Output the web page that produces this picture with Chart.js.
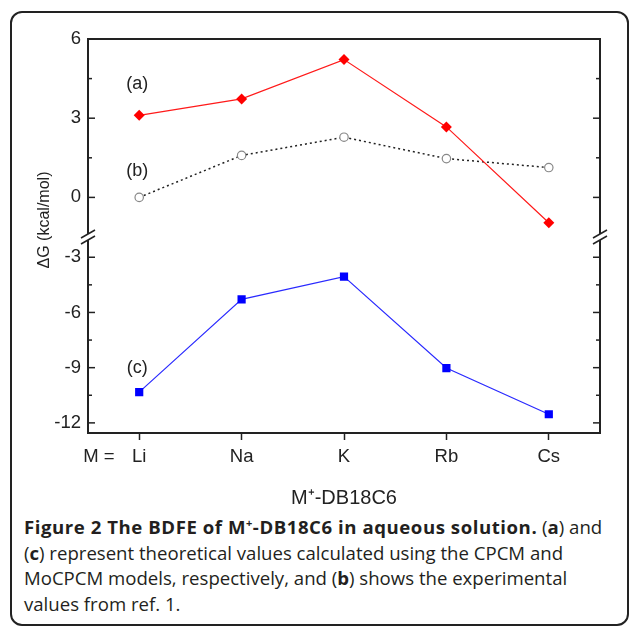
<!DOCTYPE html>
<html>
<head>
<meta charset="utf-8">
<script src="https://cdn.jsdelivr.net/npm/chart.js@4"></script>
<style>
  body { margin: 0; background: #fff; width: 630px; height: 626px; overflow: hidden; position: relative; }
  #frame { position: absolute; left: 10px; top: 11px; width: 615px; height: 611px; border: 2px solid #222; border-radius: 12px; }
  #wrap { position: absolute; left: 0; top: 0; width: 630px; height: 510px; }
  #caption { position: absolute; left: 24px; top: 514px; width: 604px; font-family: "Open Sans"; font-size: 18.6px; line-height: 25.5px; color: #231f20; white-space: nowrap; }
  #caption .hd { font-weight: bold; letter-spacing: 0.55px; }
  #caption sup { font-size: 11px; vertical-align: 7px; line-height: 0; }
</style>
</head>
<body>
<div id="frame"></div>
<div id="wrap"><canvas id="myChart" width="630" height="510"></canvas></div>
<div id="caption">
  <span class="hd">Figure 2 The BDFE of M<sup>+</sup>-DB18C6 in aqueous solution.</span> (<b>a</b>) and<br>
  (<b>c</b>) represent theoretical values calculated using the CPCM and<br>
  MoCPCM models, respectively, and (<b>b</b>) shows the experimental<br>
  values from ref. 1.
</div>
<script>
// values (kcal/mol)
const metals = ['Li', 'Na', 'K', 'Rb', 'Cs'];
const cpcm = [3.11, 3.73, 5.22, 2.67, -0.96];         // (a)
const experiment = [0.0, 1.59, 2.28, 1.47, 1.13];     // (b)
const mocpcm = [-10.33, -5.29, -4.05, -9.02, -11.53]; // (c)
const upperTicks = [6, 3, 0];
const lowerTicks = [-3, -6, -9, -12];

const ink = '#222';
Chart.defaults.font.family = "'Liberation Sans', Arial, sans-serif";
Chart.defaults.color = ink;

// series tags sit above the Li point
const tags = [
    { text: '(a)', axis: 'y', value: 4.3 },
    { text: '(b)', axis: 'y', value: 1.0 },
    { text: '(c)', axis: 'y2', value: -9.0 }
];

const drawTick = (ctx, x1, y, x2) => {
    ctx.beginPath();
    ctx.moveTo(x1, y);
    ctx.lineTo(x2, y);
    ctx.stroke();
};

const framePlugin = {
    id: 'frame',
    afterDraw: chart => {
        const ctx = chart.ctx;
        const area = chart.chartArea;
        const up = chart.scales.y;
        const low = chart.scales.y2;
        const x = chart.scales.x;
        ctx.save();
        ctx.strokeStyle = ink;
        ctx.lineWidth = 2;
        // top and right borders
        ctx.beginPath();
        ctx.moveTo(area.left, area.top);
        ctx.lineTo(area.right, area.top);
        ctx.lineTo(area.right, area.bottom);
        ctx.stroke();

        // inward ticks on left and right
        ctx.lineWidth = 1.5;
        [[up, upperTicks], [low, lowerTicks]].forEach(([s, list]) => {
            list.forEach(v => {
                const py = s.getPixelForValue(v);
                drawTick(ctx, area.left, py, area.left + 7);
                drawTick(ctx, area.right, py, area.right - 7);
                const m = v - 1.5;
                if (m > s.min + 0.2) {
                    const my = s.getPixelForValue(m);
                    drawTick(ctx, area.left, my, area.left + 4);
                    drawTick(ctx, area.right, my, area.right - 4);
                }
            });
        });

        // axis breaks
        const by = (up.bottom + low.top) / 2;
        [area.left, area.right].forEach(bx => {
            ctx.fillStyle = '#fff';
            ctx.fillRect(bx - 3, by - 3, 6, 6);
            ctx.strokeStyle = ink;
            ctx.lineWidth = 1.5;
            [-3, 3].forEach(d => {
                ctx.beginPath();
                ctx.moveTo(bx - 7, by + d + 4);
                ctx.lineTo(bx + 7, by + d - 4);
                ctx.stroke();
            });
        });

        // series tags
        ctx.fillStyle = ink;
        ctx.font = "18px 'Liberation Sans', Arial";
        ctx.textAlign = 'center';
        ctx.textBaseline = 'middle';
        tags.forEach(t => {
            ctx.fillText(t.text, x.getPixelForValue(0) - 2, chart.scales[t.axis].getPixelForValue(t.value));
        });

        // "M =" in front of the category labels
        ctx.font = "18.5px 'Liberation Sans', Arial";
        ctx.fillText('M =', area.left + 11, area.bottom + 24);

        // y title
        ctx.font = "16px 'Liberation Sans', Arial";
        ctx.translate(45, 220);
        ctx.rotate(-Math.PI / 2);
        ctx.fillText('\u0394G (kcal/mol)', 0, 0);
        ctx.restore();
    }
};

const tickFont = { size: 18.5 };

const ctx = document.getElementById('myChart').getContext('2d');
const myChart = new Chart(ctx, {
    type: 'line',
    data: {
        labels: metals,
        datasets: [{
            label: '(a) CPCM',
            data: cpcm,
            yAxisID: 'y',
            borderColor: '#ff1a1a',
            backgroundColor: '#ff0000',
            borderWidth: 1.2,
            pointStyle: 'rectRot',
            pointRadius: 5.5,
            pointBorderWidth: 0
        }, {
            label: '(b) experiment',
            data: experiment,
            yAxisID: 'y',
            borderColor: ink,
            borderWidth: 1.5,
            borderDash: [2, 3],
            pointStyle: 'circle',
            pointRadius: 4.2,
            pointBorderWidth: 1.2,
            pointBorderColor: '#888',
            pointBackgroundColor: '#fff'
        }, {
            label: '(c) MoCPCM',
            data: mocpcm,
            yAxisID: 'y2',
            borderColor: '#2a2aff',
            backgroundColor: '#0000ff',
            borderWidth: 1.2,
            pointStyle: 'rect',
            pointRadius: 5.8,
            pointBorderWidth: 0
        }]
    },
    options: {
        responsive: false,
        animation: false,
        layout: { padding: { left: 28, right: 30, top: 39, bottom: 0 } },
        plugins: { legend: { display: false }, tooltip: { enabled: false } },
        scales: {
            x: {
                offset: true,
                grid: { display: true, drawOnChartArea: false, tickLength: 7, color: ink, tickWidth: 1.5 },
                border: { color: ink, width: 2 },
                ticks: { font: tickFont, color: ink, padding: 6 },
                title: { display: true, text: 'M\u207A-DB18C6', font: { size: 20 }, color: ink, padding: { top: 2, bottom: 0 } },
                afterFit: s => { s.height = 77; }
            },
            // lower part listed first so it ends up under the upper part
            y2: {
                stack: 'v',
                stackWeight: 196,
                min: -12.55,
                max: -1.9,
                grid: { display: false, drawTicks: false },
                border: { color: ink, width: 2 },
                ticks: { font: tickFont, color: ink, padding: 7 },
                afterBuildTicks: s => { s.ticks = lowerTicks.map(v => ({ value: v })); },
                afterFit: s => { s.width = 60; }
            },
            y: {
                stack: 'v',
                stackWeight: 198,
                min: -1.5,
                max: 6,
                grid: { display: false, drawTicks: false },
                border: { color: ink, width: 2 },
                ticks: { font: tickFont, color: ink, padding: 7 },
                afterBuildTicks: s => { s.ticks = upperTicks.map(v => ({ value: v })); },
                afterFit: s => { s.width = 60; }
            }
        }
    },
    plugins: [framePlugin]
});
</script>
</body>
</html>
